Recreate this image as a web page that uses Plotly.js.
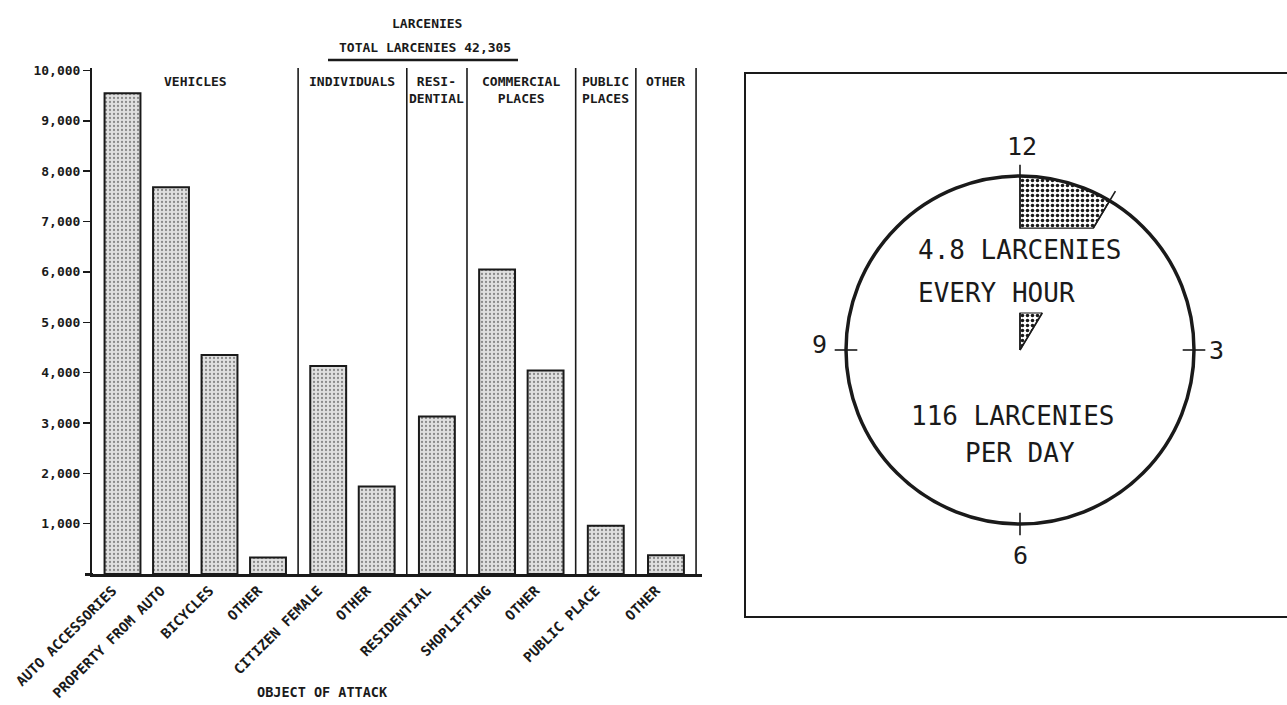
<!DOCTYPE html>
<html>
<head>
<meta charset="utf-8">
<script src="https://cdn.plot.ly/plotly-3.0.1.min.js"></script>
<style>html,body{margin:0;padding:0;background:#fff;}#chart{width:1287px;height:705px;}</style>
</head>
<body>
<div id="chart"></div>
<script>
// ---- data ----
const categories = ['AUTO ACCESSORIES','PROPERTY FROM AUTO','BICYCLES','OTHER','CITIZEN FEMALE','OTHER','RESIDENTIAL','SHOPLIFTING','OTHER','PUBLIC PLACE','OTHER'];
const larcenies = [9550, 7680, 4350, 330, 4130, 1740, 3130, 6050, 4040, 960, 370];
const groupOfBar = [0, 0, 0, 0, 1, 1, 2, 3, 3, 4, 5];
const groupNames = ['VEHICLES', 'INDIVIDUALS', 'RESI-<br>DENTIAL', 'COMMERCIAL<br>PLACES', 'PUBLIC<br>PLACES', 'OTHER'];
const yTickVals = [1000, 2000, 3000, 4000, 5000, 6000, 7000, 8000, 9000, 10000];
const yTickText = ['1,000', '2,000', '3,000', '4,000', '5,000', '6,000', '7,000', '8,000', '9,000', '10,000'];
const totalLarcenies = '42,305';
const perHour = '4.8';
const perDay = '116';
const clockNumbers = ['12', '3', '6', '9'];

// ---- layout helpers ----
const W = 1287, H = 705;
const GAP = 0.241;                       // extra space between groups (in bar slots)
const pos = categories.map((c, i) => i + GAP * groupOfBar[i]);
const FONT = 'DejaVu Sans Mono';
const py = p => (H - p) / H;             // pixel row -> paper y
const px = p => p / W;                   // pixel col -> paper x

// group boundaries
const nGroups = groupNames.length;
const bounds = [];
for (let g = 0; g < nGroups; g++) {
  const idx = pos.filter((p, i) => groupOfBar[i] === g);
  bounds.push({first: idx[0], last: idx[idx.length - 1]});
}
const xMin = -0.629, xMax = 11.948;
const rights = bounds.map((b, g) => g < nGroups - 1 ? (b.last + bounds[g + 1].first) / 2 : b.last + (1 + GAP) / 2);
const lefts = bounds.map((b, g) => g === 0 ? xMin : rights[g - 1]);

const shapes = [];
const annotations = [];
const Y_TOP = 10050;
const INK = '#1a1a1a';

rights.forEach(r => shapes.push({type: 'line', xref: 'x', yref: 'y', x0: r, x1: r, y0: 0, y1: Y_TOP, line: {color: INK, width: 1.6}}));
// baseline stub left of the value axis
shapes.push({type: 'line', xref: 'paper', yref: 'paper', x0: px(85), x1: px(93), y0: py(574.5), y1: py(574.5), line: {color: INK, width: 3}});

const labelFont = {family: FONT, size: 13, color: INK, weight: 'bold'};
groupNames.forEach((name, g) => {
  annotations.push({xref: 'x', yref: 'paper', x: (lefts[g] + rights[g]) / 2, y: py(72), yanchor: 'top', xanchor: 'center',
    text: name, showarrow: false, font: labelFont, align: 'center'});
});

// titles
annotations.push({xref: 'paper', yref: 'paper', x: px(427), y: py(23), xanchor: 'center', yanchor: 'middle', text: 'LARCENIES', showarrow: false, font: labelFont});
annotations.push({xref: 'paper', yref: 'paper', x: px(425), y: py(48), xanchor: 'center', yanchor: 'middle', text: 'TOTAL LARCENIES ' + totalLarcenies, showarrow: false, font: labelFont});
shapes.push({type: 'line', xref: 'paper', yref: 'paper', x0: px(328), x1: px(518), y0: py(60), y1: py(60), line: {color: INK, width: 2.5}});
annotations.push({xref: 'paper', yref: 'paper', x: px(322), y: py(692), xanchor: 'center', yanchor: 'middle', text: 'OBJECT OF ATTACK', showarrow: false,
  font: {family: FONT, size: 13.5, color: INK, weight: 'bold'}});

// ---- clock panel ----
const CX = 1020, CY = 350, R = 174;
const boxL = 745, boxT = 73, boxB = 617;
shapes.push({type: 'rect', xref: 'paper', yref: 'paper', x0: px(boxL), x1: 1.02, y0: py(boxB), y1: py(boxT), line: {color: INK, width: 2}, fillcolor: 'rgba(0,0,0,0)'});
shapes.push({type: 'circle', xref: 'x2', yref: 'y2', x0: -1, x1: 1, y0: -1, y1: 1, line: {color: INK, width: 3.5}});
// hour ticks
const tk = [[0, 1], [1, 0], [0, -1], [-1, 0]];
tk.forEach(([dx, dy], k) => {
  const a = k === 0 ? 0.70 : 0.935;
  shapes.push({type: 'line', xref: 'x2', yref: 'y2', x0: dx * a, y0: dy * a, x1: dx * 1.065, y1: dy * 1.065, line: {color: INK, width: 1.6}});
});
const numPos = [[0.01, 1.17], [1.13, 0.0], [0.0, -1.18], [-1.15, 0.03]];
clockNumbers.forEach((t, k) => annotations.push({xref: 'x2', yref: 'y2', x: numPos[k][0], y: numPos[k][1], text: t, showarrow: false,
  font: {family: FONT, size: 25, color: INK}}));

// wedge
const theta = 31 * Math.PI / 180;
const yCut = 0.701, yIn = 0.2126;
const wx = [0], wy = [1];
for (let k = 0; k <= 20; k++) { const a = theta * k / 20; wx.push(Math.sin(a)); wy.push(Math.cos(a)); }
wx.push(yCut * Math.tan(theta), 0, 0); wy.push(yCut, yCut, 1);
const ix = [0, 0, yIn * Math.tan(theta), 0], iy = [0, yIn, yIn, 0];
shapes.push({type: 'line', xref: 'x2', yref: 'y2', x0: yCut * Math.tan(theta), y0: yCut, x1: 1.065 * Math.sin(theta), y1: 1.065 * Math.cos(theta), line: {color: INK, width: 1.6}});
shapes.push({type: 'line', xref: 'x2', yref: 'y2', x0: 0, y0: 0, x1: yIn * Math.tan(theta), y1: yIn, line: {color: INK, width: 1.6}});
shapes.push({type: 'line', xref: 'x2', yref: 'y2', x0: 0, y0: 0, x1: 0, y1: yIn, line: {color: INK, width: 1.6}});

const clockFont = {family: FONT, size: 26, color: INK};
annotations.push({xref: 'x2', yref: 'y2', x: -0.598, y: 0.575, xanchor: 'left', text: perHour + ' LARCENIES', showarrow: false, font: clockFont});
annotations.push({xref: 'x2', yref: 'y2', x: -0.598, y: 0.328, xanchor: 'left', text: 'EVERY HOUR', showarrow: false, font: clockFont});
annotations.push({xref: 'x2', yref: 'y2', x: -0.04, y: -0.379, text: perDay + ' LARCENIES', showarrow: false, font: clockFont});
annotations.push({xref: 'x2', yref: 'y2', x: 0.0, y: -0.592, text: 'PER DAY', showarrow: false, font: clockFont});

const traces = [
  {type: 'bar', x: pos, y: larcenies, width: 0.74, xaxis: 'x', yaxis: 'y', hoverinfo: 'skip',
    marker: {color: '#d8d8d8', line: {color: INK, width: 2},
      pattern: {shape: '.', fgcolor: '#8a8a8a', bgcolor: '#e0e0e0', size: 4, solidity: 0.25}}},
  {type: 'scatter', mode: 'lines', x: wx, y: wy, xaxis: 'x2', yaxis: 'y2', fill: 'toself', hoverinfo: 'skip',
    line: {color: INK, width: 1.2}, fillcolor: 'rgba(0,0,0,0)',
    fillpattern: {shape: '.', fgcolor: INK, bgcolor: '#fff', size: 5, solidity: 0.4}},
  {type: 'scatter', mode: 'lines', x: ix, y: iy, xaxis: 'x2', yaxis: 'y2', fill: 'toself', hoverinfo: 'skip',
    line: {color: INK, width: 1.2}, fillcolor: 'rgba(0,0,0,0)',
    fillpattern: {shape: '.', fgcolor: INK, bgcolor: '#fff', size: 5, solidity: 0.4}}
];

const x2r = [(boxL - CX) / R, (W - CX) / R];
const y2r = [-(boxB - CY) / R, (CY - boxT) / R];

const layout = {
  width: W, height: H, margin: {l: 0, r: 0, t: 0, b: 0},
  paper_bgcolor: '#fff', plot_bgcolor: 'rgba(0,0,0,0)', showlegend: false,
  xaxis: {domain: [px(92), px(702)], range: [xMin, xMax], tickmode: 'array', tickvals: pos, ticktext: categories,
    tickangle: -45, ticklabelshift: -10, tickfont: {family: FONT, size: 14, color: INK, weight: 'bold'}, ticks: '', showgrid: false, zeroline: false,
    showline: true, linecolor: INK, linewidth: 3, fixedrange: true},
  yaxis: {domain: [py(574), py(68)], range: [0, Y_TOP], tickmode: 'array', tickvals: yTickVals, ticktext: yTickText,
    ticks: 'outside', ticklen: 7, tickwidth: 1.5, tickcolor: INK, tickfont: {family: FONT, size: 13, color: INK, weight: 'bold'},
    showgrid: false, zeroline: false, showline: true, linecolor: INK, linewidth: 2, fixedrange: true},
  xaxis2: {domain: [px(boxL), 1], range: x2r, visible: false, fixedrange: true, anchor: 'y2'},
  yaxis2: {domain: [py(boxB), py(boxT)], range: y2r, visible: false, fixedrange: true, anchor: 'x2'},
  shapes: shapes, annotations: annotations
};

Plotly.newPlot('chart', traces, layout, {staticPlot: true, displayModeBar: false});
</script>
</body>
</html>
